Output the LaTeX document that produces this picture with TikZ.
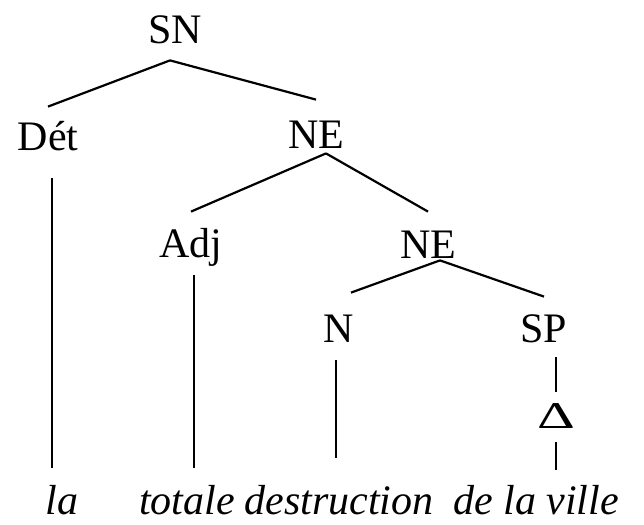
\documentclass[tikz,border=0pt]{standalone}
\usepackage{fontspec}
\setmainfont{Liberation Serif}
\tikzset{
 cat/.style={anchor=base,inner sep=0pt,text height=14pt,text depth=0pt,font=\fontsize{21}{25}\selectfont},
 word/.style={anchor=base,inner sep=0pt,text height=15pt,text depth=0pt,font=\fontsize{21}{25}\selectfont\itshape},
 branch/.style={line width=1.1pt}
}
\begin{document}
\begin{tikzpicture}[x=0.5pt,y=-0.5pt]
 \useasboundingbox (0,0) rectangle (644,525);
 \node[cat] (SN) at (175,43) {SN};
 \node[cat] (Det) at (48,150) {Dét};
 \node[cat] (NEa) at (316,148) {NE};
 \node[cat] (Adj) at (191,257) {Adj};
 \node[cat] (NEb) at (428,258) {NE};
 \node[cat] (N) at (339,342) {N};
 \node[cat] (SP) at (544,342) {SP};
 \node[cat,text height=11pt,xscale=1.4,yscale=0.9,transform shape] (Delta) at (556,428) {Δ};
 \node[word] (la) at (62,514) {la};
 \node[word] (totale) at (187,514) {totale};
 \node[word] (destruction) at (339,514) {destruction};
 \node[word] (ville) at (536,514) {de la ville};
 \draw[branch] ([xshift=-2.5pt,yshift=-8.5pt]SN.south) -- ([yshift=7.5pt]Det.north);
 \draw[branch] ([xshift=-2.5pt,yshift=-8.5pt]SN.south) -- ([yshift=10pt]NEa.north);
 \draw[branch] ([xshift=5pt,yshift=-2.5pt]NEa.south) -- ([yshift=8.5pt]Adj.north);
 \draw[branch] ([xshift=5pt,yshift=-2.5pt]NEa.south) -- ([yshift=9pt]NEb.north);
 \draw[branch] ([xshift=6pt,yshift=-1pt]NEb.south) -- ([xshift=6pt,yshift=10.5pt]N.north);
 \draw[branch] ([xshift=6pt,yshift=-1pt]NEb.south) -- ([yshift=8.5pt]SP.north);
 \draw[branch] ([xshift=2pt,yshift=-14pt]Det.south) -- ([xshift=2pt,yshift=8pt]Det.south |- la.north);
 \draw[branch] ([xshift=1.5pt,yshift=-9pt]Adj.south) -- ([xshift=1.5pt,yshift=8pt]Adj.south |- totale.north);
 \draw[branch] ([xshift=-1.5pt,yshift=-9pt]N.south) -- ([xshift=-1.5pt,yshift=13pt]N.south |- destruction.north);
 \draw[branch] ([yshift=-7.5pt]SP.south -| Delta.north) -- ([yshift=8pt]Delta.north);
 \draw[branch] ([yshift=-7pt]Delta.south) -- ([yshift=7pt]Delta.south |- ville.north);
\end{tikzpicture}
\end{document}
